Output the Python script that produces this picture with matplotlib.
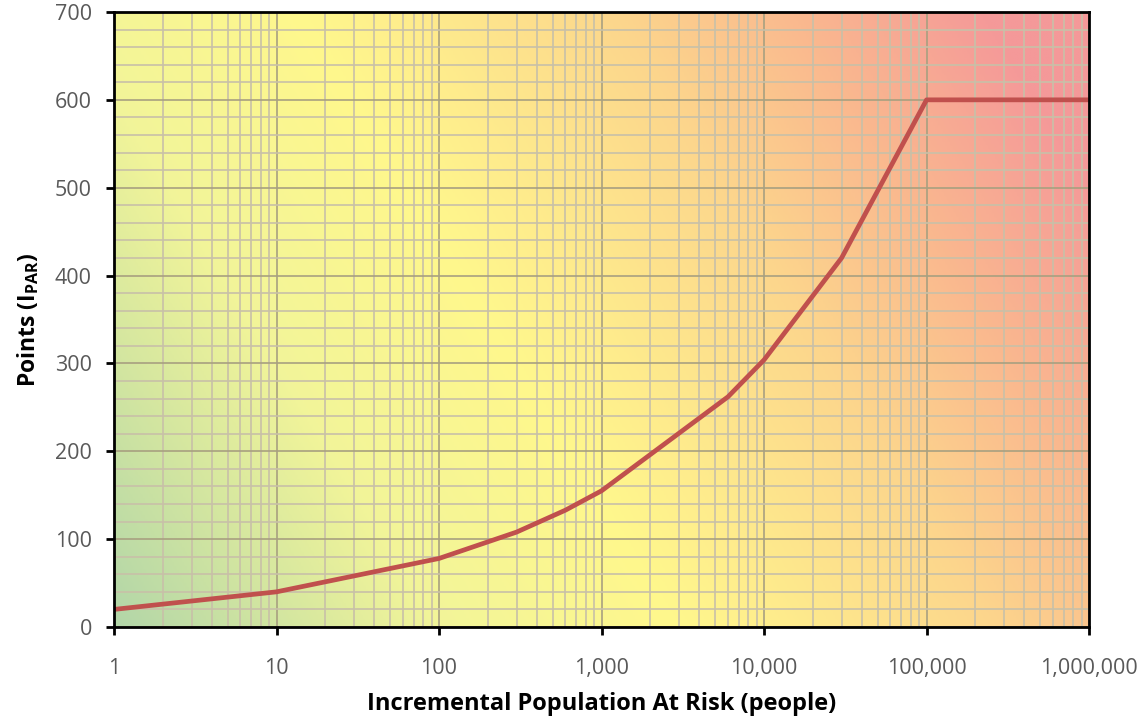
import numpy as np
import matplotlib
matplotlib.use('Agg')
import matplotlib.pyplot as plt
from matplotlib.colors import LinearSegmentedColormap
from matplotlib.ticker import FuncFormatter, LogLocator, MultipleLocator, NullFormatter

plt.rcParams['font.family'] = 'Open Sans'
plt.rcParams['mathtext.fontset'] = 'custom'
plt.rcParams['mathtext.rm'] = 'Open Sans'
plt.rcParams['mathtext.bf'] = 'Open Sans:bold'

# Data
par = [1, 10, 100, 300, 600, 1000, 6000, 10000, 30000, 100000, 1000000]
points = [20, 40, 78, 108, 133, 155, 262, 304, 420, 600, 600]
x_ticks = [1, 10, 100, 1000, 10000, 100000, 1000000]
y_ticks = [0, 100, 200, 300, 400, 500, 600, 700]

fig = plt.figure(figsize=(11.46, 7.22), dpi=100)
ax = fig.add_axes([0.0995, 0.1316, 0.8508, 0.8518])

# Background gradient: green lower left -> yellow -> orange -> red upper right
cmap = LinearSegmentedColormap.from_list('bg', [
    (0.00, (0.70, 0.84, 0.66)),
    (0.26, (0.95, 0.96, 0.60)),
    (0.45, (1.00, 0.97, 0.55)),
    (0.70, (0.99, 0.84, 0.55)),
    (0.85, (0.98, 0.72, 0.56)),
    (1.00, (0.96, 0.60, 0.60)),
])
u, v = np.meshgrid(np.linspace(0, 1, 400), np.linspace(0, 1, 300))
t = np.clip(0.78 * u + 0.30 * v, 0, 1)
ax.imshow(t, cmap=cmap, vmin=0, vmax=1, origin='lower', extent=[0, 1, 0, 1],
          transform=ax.transAxes, aspect='auto', zorder=0, interpolation='bilinear')

ax.plot(par, points, color='#c0504d', lw=3.4, zorder=3, solid_joinstyle='round')

ax.set_xscale('log')
ax.set_xlim(1, 1000000)
ax.set_ylim(0, 700)
ax.xaxis.set_minor_locator(LogLocator(base=10, subs=np.arange(2, 10), numticks=20))
ax.xaxis.set_minor_formatter(NullFormatter())
ax.set_xticks(x_ticks)
ax.xaxis.set_major_formatter(FuncFormatter(lambda val, pos: '{:,.0f}'.format(val)))
ax.set_yticks(y_ticks)
ax.yaxis.set_minor_locator(MultipleLocator(20))

ax.grid(which='major', color='#a8a080', lw=1.2, zorder=1)
ax.grid(which='minor', color='#c8c0a8', lw=1.2, zorder=1)
for gl in ax.get_xgridlines() + ax.get_ygridlines():
    gl.set_zorder(1)

for s in ax.spines.values():
    s.set_linewidth(2)
    s.set_color('black')
    s.set_zorder(4)

ax.tick_params(which='major', direction='out', length=6, width=2, color='black',
               labelsize=15.5, labelcolor='#595959')
ax.tick_params(axis='x', which='major', pad=16)
ax.tick_params(axis='y', which='major', pad=10)
ax.tick_params(which='minor', length=0)
ax.tick_params(top=False, right=False)

ax.set_xlabel('Incremental Population At Risk (people)', fontsize=17, fontweight='bold', labelpad=10)
ax.set_ylabel(r'Points (I$_{\mathbf{PAR}}$)', fontsize=16.5, fontweight='bold', labelpad=10)

fig.savefig('out.png', dpi=100)
